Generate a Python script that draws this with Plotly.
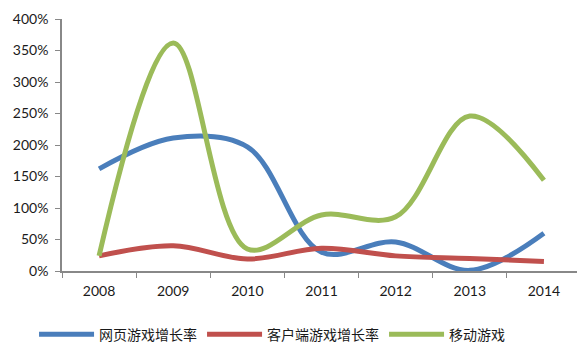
import plotly.graph_objects as go

years = ["2008", "2009", "2010", "2011", "2012", "2013", "2014"]
web_game = [162, 211, 197, 30, 46, 1, 60]        # 网页游戏增长率 (%)
client_game = [24, 40, 19, 36, 24, 20, 15]       # 客户端游戏增长率 (%)
mobile_game = [24, 362, 35, 89, 86, 246, 144]    # 移动游戏 (%)

series = [
    ("网页游戏增长率", web_game, "#4A7EBB"),
    ("客户端游戏增长率", client_game, "#C0504D"),
    ("移动游戏", mobile_game, "#9BBB59"),
]

fig = go.Figure()
for name, vals, color in series:
    fig.add_trace(go.Scatter(
        x=years, y=vals, name=name, mode="lines",
        line=dict(color=color, width=5, shape="spline", smoothing=1.0),
    ))

fig.update_layout(
    width=577, height=343,
    margin=dict(l=62, r=0, t=19, b=72),
    paper_bgcolor="white", plot_bgcolor="white",
    font=dict(family="Lato, 'Noto Sans CJK SC'", size=14, color="#1a1a1a"),
    showlegend=True,
    legend=dict(
        orientation="h",
        xref="container", x=0.059, xanchor="left",
        yref="container", y=0.024, yanchor="middle",
        font=dict(family="'Noto Sans CJK SC'", size=14, color="#1a1a1a"),
        itemwidth=55, tracegroupgap=0,
    ),
)
fig.update_xaxes(
    type="category", range=[-0.5, 6.446],
    showline=True, linecolor="#888", linewidth=1.5,
    ticks="outside", tickson="boundaries", ticklen=5, tickcolor="#888",
    ticklabelstandoff=6,
    showgrid=False, zeroline=False,
)
fig.update_yaxes(
    range=[0, 400], tickvals=[0, 50, 100, 150, 200, 250, 300, 350, 400],
    ticktext=[f"{v}%" for v in [0, 50, 100, 150, 200, 250, 300, 350, 400]],
    showline=True, linecolor="#888", linewidth=1.5,
    ticks="outside", ticklen=5, tickcolor="#888",
    ticklabelstandoff=4,
    showgrid=False, zeroline=False,
)

fig.write_html("out.html")
